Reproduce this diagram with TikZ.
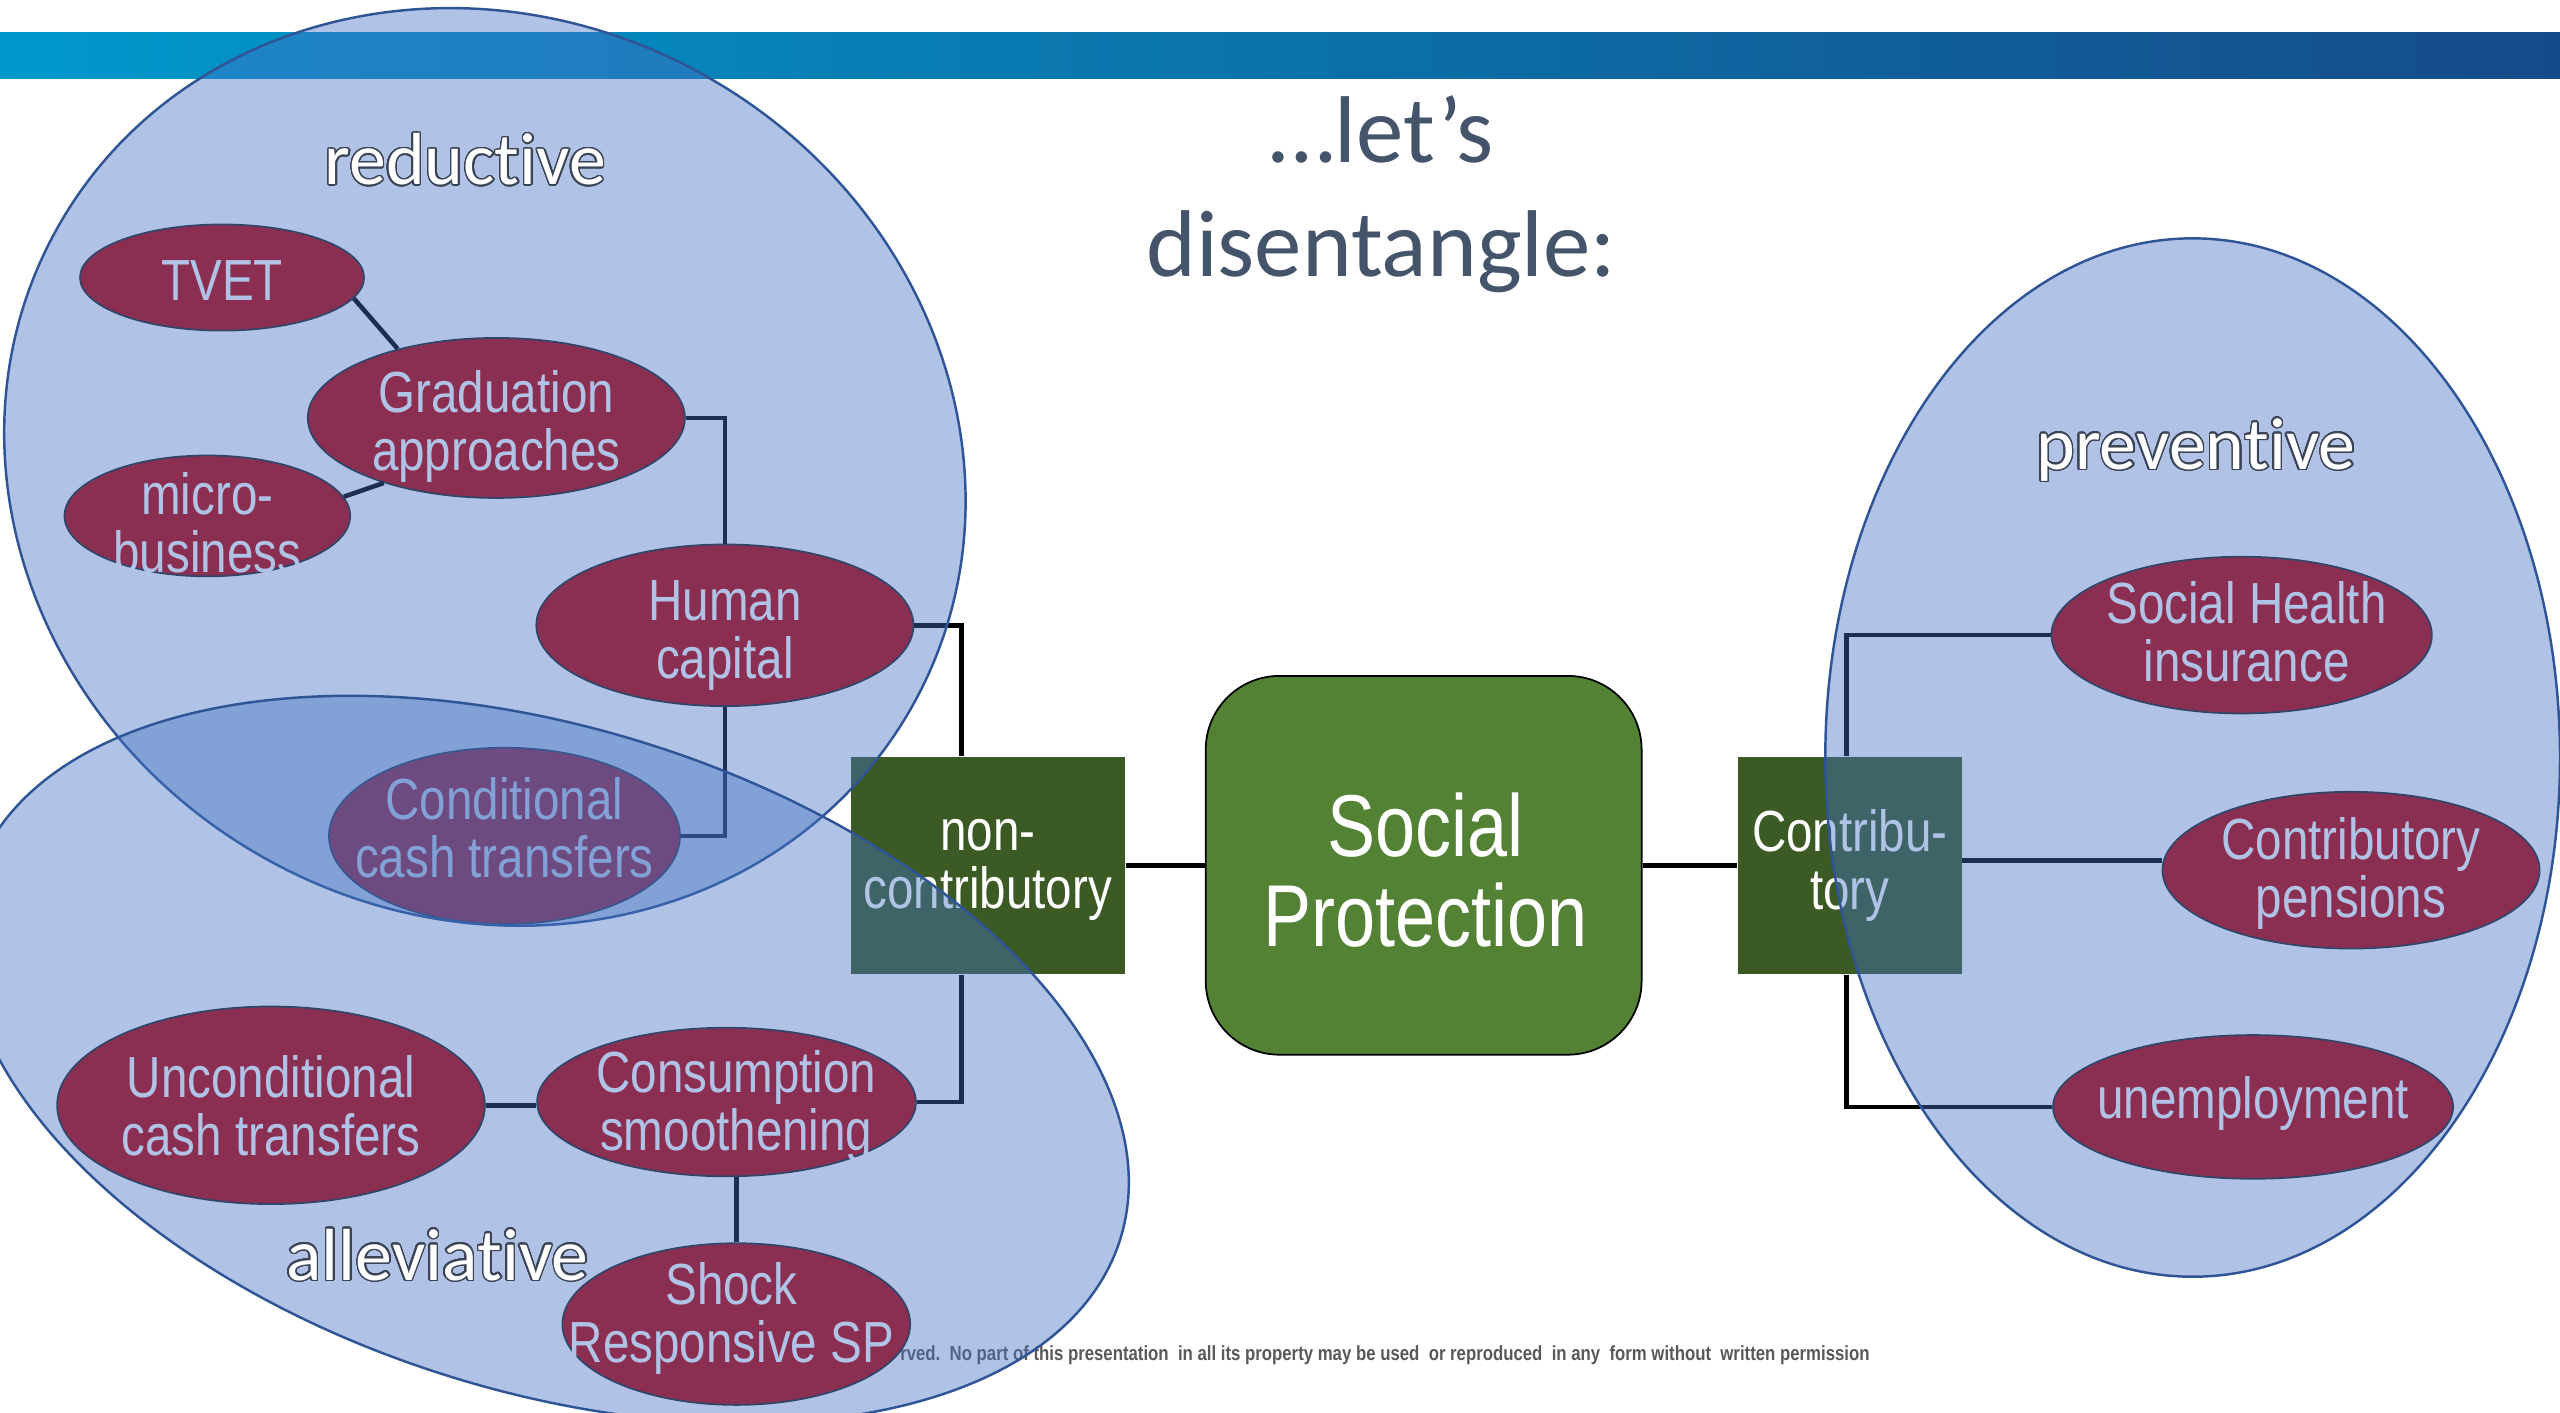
\documentclass[tikz,border=0pt]{standalone}
\usepackage{fontspec}
\usepackage{contour}
\usetikzlibrary{shapes.geometric,calc}
\newfontfamily\narrowfont[FakeStretch=0.82]{Liberation Sans}
\newfontfamily\calfont{Carlito}
\newfontfamily\calnolig[Ligatures=NoCommon]{Carlito}
\definecolor{barL}{RGB}{0,153,204}
\definecolor{barR}{RGB}{21,75,136}
\definecolor{redE}{RGB}{192,0,0}
\definecolor{boxG}{RGB}{59,90,36}
\definecolor{spG}{RGB}{84,130,53}
\definecolor{ovl}{RGB}{68,114,196}
\definecolor{ovlB}{RGB}{47,85,151}
\definecolor{titleC}{RGB}{68,84,106}
\definecolor{outlC}{RGB}{59,68,84}
\definecolor{footC}{RGB}{89,89,89}
\contourlength{0.42pt}
\contournumber{32}
\def\pxu{0.016327cm}
\tikzset{
  redell/.style={ellipse, fill=redE, draw=black!85, line width=0.5pt, inner sep=0pt},
  lbl/.style={font=\narrowfont\fontsize{16.5}{16.5}\selectfont, text=white, align=center, inner sep=0pt},
  splbl/.style={font=\narrowfont\fontsize{25}{25.5}\selectfont, text=white, align=center, inner sep=0pt},
  gbox/.style={rectangle, fill=boxG, inner sep=0pt, minimum width=#1*\pxu, minimum height=133*\pxu},
  spbox/.style={rectangle, rounded corners=21pt, fill=spG, draw=black, line width=0.5pt, inner sep=0pt,
     minimum width=267*\pxu, minimum height=232*\pxu},
  conn/.style={draw=black, line width=1.3pt},
  region/.style={fill=ovl, fill opacity=0.42, draw=ovlB, draw opacity=1, line width=0.7pt},
  outl/.style={font=\calnolig\fontsize{21}{21}\selectfont, text=white, inner sep=0pt},
}
\begin{document}
\begin{tikzpicture}[x=0.016327cm,y=-0.016327cm]
\useasboundingbox (0,0) rectangle (1568,865);
\clip (0,0) rectangle (1568,865);
\fill[white] (0,0) rectangle (1568,865);
% top bar
\shade[left color=barL, right color=barR] (0,20) rectangle (1568,48);
% footer
\node[anchor=west, font=\narrowfont\bfseries\fontsize{5.82}{7}\selectfont, text=footC, inner sep=0pt] (foot) at (551,830)
  {rved.\ \ No part of this presentation\ \ in all its property may be used\ \ or reproduced\ \ in any\ \ form without\ \ written permission};
% boxes
\node[gbox=168, label={[lbl,yshift=-3*\pxu]center:{non-\\contributory}}] (nc) at (605,530) {};
\node[spbox, label={[splbl,yshift=-3*\pxu,xshift=1*\pxu]center:{Social\\Protection}}] (sp) at (872,530) {};
\node[gbox=137, label={[lbl]center:{Contribu-\\tory}}] (contrib) at (1133,530) {};
% red ellipses
\node[redell, minimum width=174*\pxu, minimum height=65*\pxu, label={[lbl,yshift=-2*\pxu]center:TVET}] (tvet) at (136,170) {};
\node[redell, minimum width=231*\pxu, minimum height=98*\pxu, label={[lbl,yshift=-5*\pxu]center:{Graduation\\approaches}}] (grad) at (304,256) {};
\node[redell, minimum width=175*\pxu, minimum height=74*\pxu, label={[lbl,yshift=-4*\pxu]center:{micro-\\business}}] (micro) at (127,316) {};
\node[redell, minimum width=231*\pxu, minimum height=99*\pxu, label={[lbl,yshift=-6.5*\pxu]center:{Human\\capital}}] (hc) at (444,383) {};
\node[redell, minimum width=215*\pxu, minimum height=108*\pxu, label={[lbl,yshift=5*\pxu]center:{Conditional\\cash transfers}}] (cct) at (309,512) {};
\node[redell, minimum width=262*\pxu, minimum height=121*\pxu, label={[lbl]center:{Unconditional\\cash transfers}}] (uct) at (166,677) {};
\node[redell, minimum width=232*\pxu, minimum height=91*\pxu, label={[lbl,yshift=-2.5*\pxu,xshift=6*\pxu]center:{Consumption\\smoothening}}] (cs) at (445,675) {};
\node[redell, minimum width=213*\pxu, minimum height=99*\pxu, label={[lbl,yshift=3.5*\pxu,xshift=-3*\pxu]center:{Shock\\Responsive SP}}] (shock) at (451,811) {};
\node[redell, minimum width=233*\pxu, minimum height=96*\pxu, label={[lbl,yshift=2*\pxu,xshift=3*\pxu]center:{Social Health\\insurance}}] (sh) at (1373,389) {};
\node[redell, minimum width=231*\pxu, minimum height=96*\pxu, label={[lbl,yshift=-2*\pxu]center:{Contributory\\pensions}}] (pens) at (1440,533) {};
\node[redell, minimum width=245*\pxu, minimum height=88*\pxu, label={[lbl,yshift=2*\pxu]center:{unemployment}}] (unemp) at (1380,678) {};
% connectors
\draw[conn] (tvet.-9) -- (grad.145);
\draw[conn] (micro.8) -- (grad.210);
\draw[conn] (grad.east) -| (hc.north);
\draw[conn] (hc.south) |- (cct.east);
\draw[conn] (hc.east) -| ($(nc.north)+(-16,0)$);
\draw[conn] (cs.east) -| ($(nc.south)+(-16,0)$);
\draw[conn] (uct.east) -- (uct.east -| cs.west);
\draw[conn] (shock.north) -- (shock.north |- cs.south);
\draw[conn] (nc.east) -- (sp.west);
\draw[conn] (sp.east) -- (contrib.west);
\draw[conn] ($(contrib.north)+(-2,0)$) |- (sh.west);
\draw[conn] ($(contrib.south)+(-2,0)$) |- (unemp.west);
\draw[conn] ($(contrib.east)+(0,-3)$) -- ($(contrib.east -| pens.west)+(0,-3)$);
% overlay regions
\path[region, rotate around={-28.8:(297,286)}] (297,286) ellipse [x radius=300, y radius=275];
\path[region, rotate around={-17.4:(335,649)}] (335,649) ellipse [x radius=368, y radius=203];
\path[region] (1343,464) ellipse [x radius=225, y radius=318];
% region labels
\node[outl] (lred) at (285,98) {\contour{outlC}{reduc\kern0pt tive}};
\node[outl] (lprev) at (1345,276) {\contour{outlC}{preven\kern0pt tive}};
\node[outl] (lall) at (268,769) {\contour{outlC}{allevia\kern0pt tive}};
% title
\node[font=\calfont\fontsize{27}{32.5}\selectfont, text=titleC, align=center, inner sep=0pt] (title) at (846,119) {…let’s\\disentangle:};
\end{tikzpicture}
\end{document}
